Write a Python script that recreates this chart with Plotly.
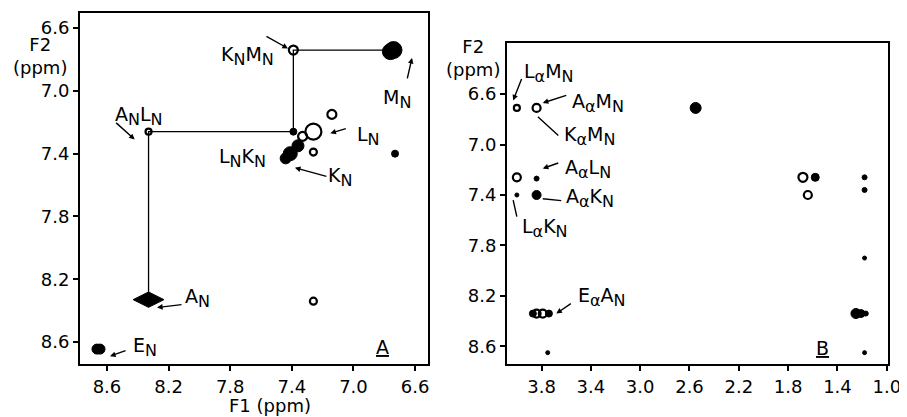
import plotly.graph_objects as go

# ---------------- data ----------------
# Panel A (F1 amide region)
a_tick_vals = [8.6, 8.2, 7.8, 7.4, 7.0, 6.6]
a_tick_text = ["8.6", "8.2", "7.8", "7.4", "7.0", "6.6"]
a_y_vals = [6.6, 7.0, 7.4, 7.8, 8.2, 8.6]
a_y_text = ["6.6", "7.0", "7.4", "7.8", "8.2", "8.6"]

a_open_f1 = [7.39, 8.33, 7.26, 7.26, 7.26, 7.14, 7.33]
a_open_f2 = [6.74, 7.26, 8.34, 7.39, 7.26, 7.15, 7.29]
a_open_sz = [9, 6, 7, 7, 16, 9, 9]

a_fill_f1 = [7.39, 6.73, 8.665, 8.645, 6.74, 6.76, 7.41, 7.36, 7.44]
a_fill_f2 = [7.26, 7.40, 8.645, 8.645, 6.74, 6.75, 7.40, 7.35, 7.43]
a_fill_sz = [7, 7, 10, 10, 17, 16, 14, 12, 11]

a_diam_f1 = [8.33]
a_diam_f2 = [8.33]

a_walk_f1 = [8.33, 8.33, 7.39, 7.39, 6.74]
a_walk_f2 = [8.33, 7.26, 7.26, 6.74, 6.74]

a_labels = [("K", "N", "M", "N"), ("M", "N"), ("A", "N", "L", "N"),
            ("L", "N"), ("L", "N", "K", "N"), ("K", "N"),
            ("A", "N"), ("E", "N")]
a_lab_f1 = [7.69, 6.72, 8.39, 6.90, 7.72, 7.09, 8.01, 8.35]
a_lab_f2 = [6.78, 7.05, 7.16, 7.29, 7.43, 7.55, 8.32, 8.63]

a_arr_f1 = [7.425, 6.62, 8.42, 7.15, 7.38, 8.275, 8.58]
a_arr_f2 = [6.73, 6.79, 7.31, 7.27, 7.49, 8.38, 8.69]
a_arr_ax = [-23, -5, -20, 17, 33, 26, 17]
a_arr_ay = [-13, 22, -18, -5, 9, -3, -6]

# Panel B (F1 aliphatic region)
b_tick_vals = [3.8, 3.4, 3.0, 2.6, 2.2, 1.8, 1.4, 1.0]
b_tick_text = ["3.8", "3.4", "3.0", "2.6", "2.2", "1.8", "1.4", "1.0"]

b_open_f1 = [4.00, 3.84, 4.00, 1.64, 1.68, 3.84, 3.79]
b_open_f2 = [6.71, 6.71, 7.26, 7.40, 7.26, 8.34, 8.34]
b_open_sz = [6, 8, 8, 8, 9, 8, 8]

b_fill_f1 = [2.55, 3.84, 4.00, 3.84, 1.58, 1.18, 1.18, 1.18, 3.87, 3.74, 1.25, 1.21, 1.17, 3.75, 1.18]
b_fill_f2 = [6.71, 7.27, 7.40, 7.40, 7.26, 7.26, 7.36, 7.90, 8.34, 8.34, 8.34, 8.34, 8.34, 8.65, 8.65]
b_fill_sz = [11, 5, 4, 9, 8, 5, 5, 4, 7, 7, 10, 8, 5, 4, 4]

b_labels = [("L", "α", "M", "N"), ("A", "α", "M", "N"), ("K", "α", "M", "N"),
            ("A", "α", "L", "N"), ("A", "α", "K", "N"), ("L", "α", "K", "N"),
            ("E", "α", "A", "N")]
b_lab_f1 = [3.74, 3.34, 3.41, 3.42, 3.41, 3.77, 3.31]
b_lab_f2 = [6.43, 6.67, 6.93, 7.19, 7.42, 7.66, 8.21]

b_arr_f1 = [4.03, 3.79, 3.83, 3.79, 3.79, 4.03, 3.68]
b_arr_f2 = [6.65, 6.67, 6.78, 7.19, 7.43, 7.44, 8.34]
b_arr_ax = [9, 25, 22, 17, 20, 4, 16]
b_arr_ay = [-23, -8, 20, -6, 2, 18, -11]
b_arr_head = [2, 2, 0, 2, 0, 0, 2]

# ---------------- figure ----------------
FONT = "DejaVu Sans"
LABEL_SIZE = 19
SUB_SIZE = 16
OFF = 8            # page body margin
W, H = 907 - OFF, 417 - OFF


def fx(px):
    return (px - OFF) / W


def fy(py):
    return 1 - (py - OFF) / H


def label(parts):
    out = ""
    for i in range(0, len(parts), 2):
        out += parts[i] + "<sub><span style='font-size:%dpx'>%s</span></sub>" % (SUB_SIZE, parts[i + 1])
    return out


fig = go.Figure()


def add_peaks(f1, f2, sz, symbol, xa, ya, lw=1.6):
    fig.add_trace(go.Scatter(
        x=f1, y=f2, mode="markers", xaxis=xa, yaxis=ya, showlegend=False,
        opacity=1,
        marker=dict(symbol=symbol, size=sz, color="#000000", opacity=1,
                    line=dict(color="#000000", width=lw))))


fig.add_trace(go.Scatter(x=a_walk_f1, y=a_walk_f2, mode="lines", xaxis="x", yaxis="y",
                         line=dict(color="#000000", width=1.3), showlegend=False))
add_peaks(a_open_f1, a_open_f2, a_open_sz, "circle-open", "x", "y", 2.2)
add_peaks(a_fill_f1, a_fill_f2, a_fill_sz, "circle", "x", "y", 1)
add_peaks(a_diam_f1, a_diam_f2, [22], "diamond-wide", "x", "y", 1)

add_peaks(b_open_f1, b_open_f2, b_open_sz, "circle-open", "x2", "y2", 2.2)
add_peaks(b_fill_f1, b_fill_f2, b_fill_sz, "circle", "x2", "y2", 1)

LF = dict(family=FONT, size=LABEL_SIZE, color="black")
ann = []
for t, x, y in zip(a_labels, a_lab_f1, a_lab_f2):
    ann.append(dict(x=x, y=y, xref="x", yref="y", text=label(t), showarrow=False,
                    xanchor="center", yanchor="middle", font=LF))
for x, y, ax, ay in zip(a_arr_f1, a_arr_f2, a_arr_ax, a_arr_ay):
    ann.append(dict(x=x, y=y, xref="x", yref="y", text="", showarrow=True,
                    ax=ax, ay=ay, arrowhead=2, arrowsize=0.8, arrowwidth=1.4,
                    arrowcolor="black"))
for t, x, y in zip(b_labels, b_lab_f1, b_lab_f2):
    ann.append(dict(x=x, y=y, xref="x2", yref="y2", text=label(t), showarrow=False,
                    xanchor="center", yanchor="middle", font=LF))
for x, y, ax, ay, h in zip(b_arr_f1, b_arr_f2, b_arr_ax, b_arr_ay, b_arr_head):
    ann.append(dict(x=x, y=y, xref="x2", yref="y2", text="", showarrow=True,
                    ax=ax, ay=ay, arrowhead=h, arrowsize=0.8, arrowwidth=1.4,
                    arrowcolor="black"))

# panel letters
ann.append(dict(x=6.81, y=8.63, xref="x", yref="y", text="<u>A</u>", showarrow=False,
                xanchor="center", yanchor="middle", font=LF))
ann.append(dict(x=1.52, y=8.61, xref="x2", yref="y2", text="<u>B</u>", showarrow=False,
                xanchor="center", yanchor="middle", font=LF))
# axis titles
TF = dict(family=FONT, size=18, color="black")
ann.append(dict(x=fx(270), y=fy(405), xref="paper", yref="paper", text="F1 (ppm)",
                xanchor="center", yanchor="middle", showarrow=False,
                font=dict(family=FONT, size=18, color="black")))
ann.append(dict(x=fx(40), y=fy(56), xref="paper", yref="paper", text="F2<br>(ppm)",
                xanchor="center", yanchor="middle", showarrow=False, font=TF))
ann.append(dict(x=fx(473), y=fy(58), xref="paper", yref="paper", text="F2<br>(ppm)",
                xanchor="center", yanchor="middle", showarrow=False, font=TF))

axis_common = dict(showgrid=False, zeroline=False, showline=True, linecolor="black",
                   linewidth=2, mirror=True, ticks="outside", ticklen=5, tickwidth=1.5,
                   tickcolor="black", tickfont=dict(family=FONT, size=18, color="black"))

fig.update_layout(
    template="none",
    width=W, height=H, margin=dict(l=0, r=0, t=0, b=0),
    paper_bgcolor="white", plot_bgcolor="white",
    xaxis=dict(domain=[fx(80), fx(428)], range=[8.775, 6.516], anchor="y",
               tickvals=a_tick_vals, ticktext=a_tick_text, **axis_common),
    yaxis=dict(domain=[fy(364), fy(13)], range=[8.74, 6.504], anchor="x",
               tickvals=a_y_vals, ticktext=a_y_text, **axis_common),
    xaxis2=dict(domain=[fx(507), fx(888)], range=[4.08, 0.99], anchor="y2",
                tickvals=b_tick_vals, ticktext=b_tick_text, **axis_common),
    yaxis2=dict(domain=[fy(364), fy(43)], range=[8.74, 6.195], anchor="x2",
                tickvals=a_y_vals, ticktext=a_y_text, **axis_common),
    annotations=ann,
)

fig.write_html("out.html")
